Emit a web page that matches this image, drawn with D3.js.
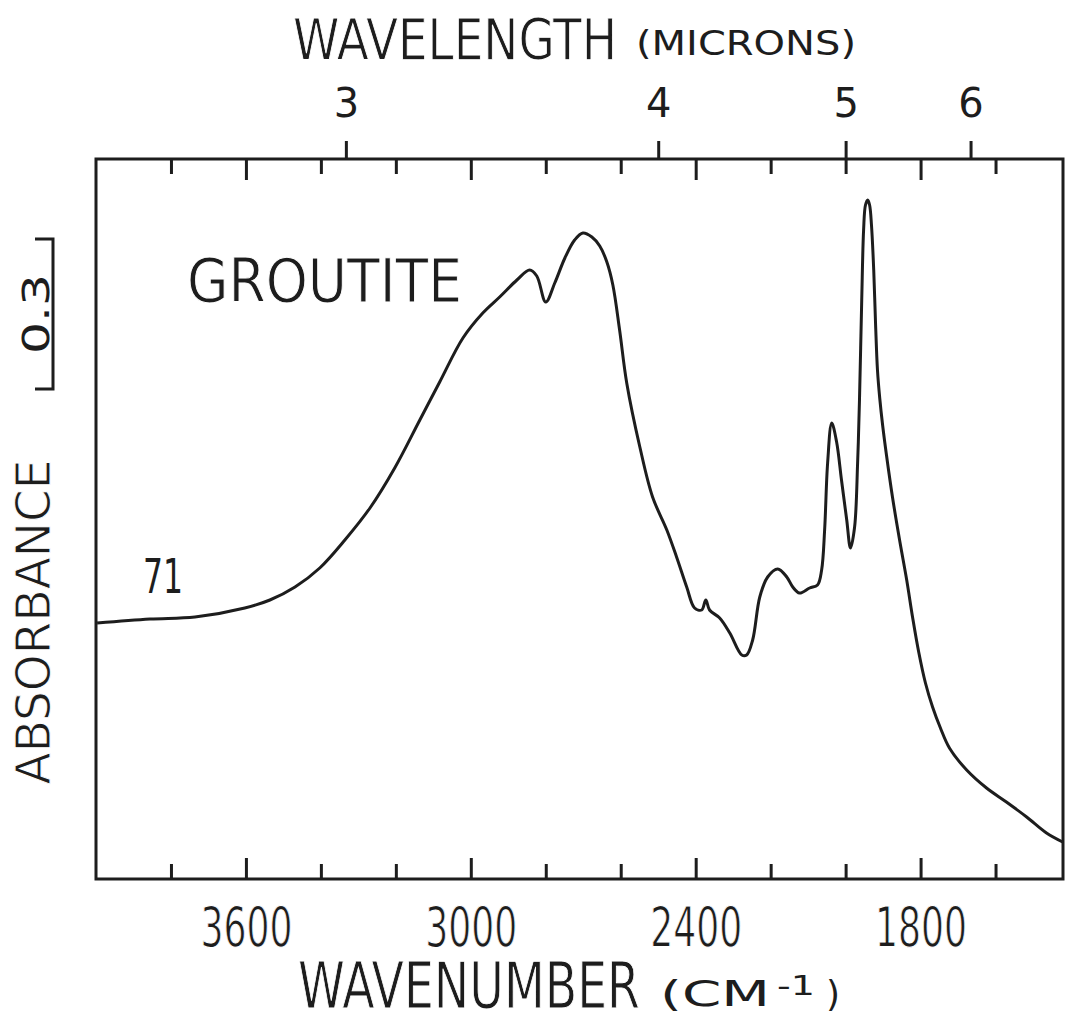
<!DOCTYPE html>
<html>
<head>
<meta charset="utf-8">
<script src="https://cdn.jsdelivr.net/npm/d3@7"></script>
<style>
    body { margin: 0; background: #fff; }
    text { font-family: "DejaVu Sans", sans-serif; fill: #1d1d1d; }
    text.big { stroke: #fff; stroke-width: 1px; }
</style>
</head>
<body>
<div id="chart"></div>
<script>
// groutite spectrum (wavenumber cm-1, absorbance)
const wavenumbers = [3997, 3856, 3736, 3603, 3536, 3469, 3403, 3336, 3269, 3203, 3136, 3083, 3021, 2968,
    2923, 2877, 2843, 2824, 2800, 2776, 2749, 2723, 2701, 2677, 2656, 2637, 2621, 2603, 2584, 2549, 2515,
    2477, 2451, 2424, 2403, 2384, 2373, 2363, 2336, 2309, 2277, 2264, 2248, 2229, 2208, 2181, 2157,
    2141, 2123, 2096, 2075, 2064, 2056, 2048, 2037, 2024, 2011, 1997, 1987, 1976, 1968, 1963, 1957,
    1952, 1947, 1941, 1936, 1931, 1925, 1920, 1915, 1909, 1901, 1891, 1875, 1856, 1837, 1821, 1805,
    1787, 1768, 1747, 1723, 1677, 1624, 1571, 1517, 1464, 1421];
const absorbance = [0.512, 0.520, 0.524, 0.542, 0.558, 0.584, 0.622, 0.678, 0.742, 0.822, 0.918, 0.994, 1.082, 1.132,
    1.164, 1.198, 1.218, 1.206, 1.154, 1.192, 1.242, 1.278, 1.292, 1.284, 1.266, 1.234, 1.188, 1.098, 0.992, 0.864, 0.764,
    0.698, 0.644, 0.584, 0.542, 0.538, 0.558, 0.538, 0.522, 0.492, 0.448, 0.448, 0.478, 0.564, 0.604, 0.620, 0.604,
    0.584, 0.572, 0.582, 0.588, 0.618, 0.698, 0.832, 0.912, 0.874, 0.798, 0.718, 0.662, 0.704, 0.832, 0.958, 1.158,
    1.298, 1.348, 1.358, 1.348, 1.308, 1.218, 1.108, 1.018, 0.962, 0.906, 0.848, 0.764, 0.678, 0.598, 0.522, 0.454,
    0.392, 0.344, 0.302, 0.262, 0.218, 0.182, 0.154, 0.124, 0.092, 0.074];

const minorTicks = [3800, 3600, 3400, 3200, 3000, 2800, 2600, 2400, 2200, 2000, 1800, 1600];
const majorTicks = [3600, 3000, 2400, 1800];
const micronTicks = [3, 4, 5, 6];
const scaleBar = [0.98, 1.28]; // the "0.3" absorbance bar

const data = wavenumbers.map((w, i) => ({wn: w, a: absorbance[i]}));

let width = 1065, height = 1017;
let margin = {top: 159, right: 2, bottom: 138, left: 96};

let svg = d3.select("#chart")
    .append("svg")
    .attr("width", width)
    .attr("height", height);

let x = d3.scaleLinear()
    .domain([4000, 1420])
    .range([margin.left, width - margin.right]);

let y = d3.scaleLinear()
    .domain([0, 1.44])
    .range([height - margin.bottom, margin.top]);

let ink = "#1d1d1d";

// frame
svg.append("rect")
    .attr("x", x.range()[0])
    .attr("y", y.range()[1])
    .attr("width", x.range()[1] - x.range()[0])
    .attr("height", y.range()[0] - y.range()[1])
    .attr("fill", "none")
    .attr("stroke", ink)
    .attr("stroke-width", 3);

function tickAxis(axis, size, ticks) {
    return axis.tickValues(ticks).tickSize(size).tickFormat("");
}

// inward ticks on bottom and top
let bottomY = y.range()[0], topY = y.range()[1];
[[d3.axisBottom(x), bottomY], [d3.axisTop(x), topY]].forEach(([ax, yy]) => {
    svg.append("g")
        .attr("class", "axis")
        .attr("transform", "translate(0," + yy + ")")
        .call(tickAxis(ax, -15, minorTicks.filter(t => majorTicks.indexOf(t) < 0)));
});
svg.append("g")
    .attr("transform", "translate(0," + bottomY + ")")
    .call(tickAxis(d3.axisBottom(x), -21, majorTicks));
svg.append("g")
    .attr("transform", "translate(0," + topY + ")")
    .call(tickAxis(d3.axisTop(x), -21, majorTicks));

// wavelength ticks (outside, top)
let micronAxis = d3.axisTop(x)
    .tickValues(micronTicks.map(m => 1e4 / m))
    .tickSize(18)
    .tickPadding(24)
    .tickFormat(v => Math.round(1e4 / v));
let gTop = svg.append("g")
    .attr("transform", "translate(0," + topY + ")")
    .call(micronAxis);
gTop.selectAll("text")
    .attr("dy", 0)
    .style("font-size", "40px");

// wavenumber labels
let gBot = svg.append("g")
    .attr("transform", "translate(0," + bottomY + ")")
    .call(d3.axisBottom(x).tickValues(majorTicks).tickSize(0).tickFormat(d3.format("d")));
gBot.selectAll("text")
    .attr("class", "big")
    .attr("y", 67)
    .attr("dy", 0)
    .attr("textLength", 92)
    .attr("lengthAdjust", "spacingAndGlyphs")
    .style("font-size", "56px");

svg.selectAll(".domain").remove();
svg.selectAll(".tick line")
    .attr("stroke", ink)
    .attr("stroke-width", 3);
svg.selectAll(".tick text")
    .style("fill", ink)
    .style("font-family", "DejaVu Sans, sans-serif");

// spectrum
let line = d3.line()
    .x(d => x(d.wn))
    .y(d => y(d.a))
    .curve(d3.curveCatmullRom.alpha(0.5));

svg.append("path")
    .datum(data)
    .attr("d", line)
    .attr("fill", "none")
    .attr("stroke", ink)
    .attr("stroke-width", 3)
    .attr("stroke-linejoin", "round");

// titles
svg.append("text")
    .attr("class", "big")
    .attr("x", 293).attr("y", 60)
    .attr("textLength", 324).attr("lengthAdjust", "spacingAndGlyphs")
    .style("font-size", "57px")
    .text("WAVELENGTH");
svg.append("text")
    .attr("x", 636).attr("y", 55)
    .attr("textLength", 220).attr("lengthAdjust", "spacingAndGlyphs")
    .style("font-size", "33px")
    .text("(MICRONS)");

svg.append("text")
    .attr("class", "big")
    .attr("x", 298).attr("y", 1008)
    .attr("textLength", 342).attr("lengthAdjust", "spacingAndGlyphs")
    .style("font-size", "64px")
    .text("WAVENUMBER");
// (CM-1) with raised exponent
svg.append("text")
    .attr("x", 660).attr("y", 1006)
    .attr("textLength", 110).attr("lengthAdjust", "spacingAndGlyphs")
    .style("font-size", "36px")
    .text("(CM");
svg.append("text")
    .attr("x", 777).attr("y", 995)
    .attr("textLength", 38).attr("lengthAdjust", "spacingAndGlyphs")
    .style("font-size", "26px")
    .text("-1");
svg.append("text")
    .attr("x", 826).attr("y", 1006)
    .style("font-size", "36px")
    .text(")");

svg.append("text")
    .attr("class", "big")
    .attr("transform", "translate(50,622) rotate(-90)")
    .attr("text-anchor", "middle")
    .attr("textLength", 325).attr("lengthAdjust", "spacingAndGlyphs")
    .style("font-size", "48px")
    .text("ABSORBANCE");

// scale bar
let barX = 53;
svg.append("path")
    .attr("d", `M${barX - 18},${y(scaleBar[1])}H${barX}V${y(scaleBar[0])}H${barX - 18}`)
    .attr("fill", "none")
    .attr("stroke", ink)
    .attr("stroke-width", 3);
svg.append("text")
    .attr("transform", "translate(49," + y((scaleBar[0] + scaleBar[1]) / 2) + ") rotate(-90)")
    .attr("text-anchor", "middle")
    .attr("textLength", 80).attr("lengthAdjust", "spacingAndGlyphs")
    .style("font-size", "38px")
    .text("0.3");

svg.append("text")
    .attr("class", "big")
    .attr("x", 187).attr("y", 302)
    .attr("textLength", 275).attr("lengthAdjust", "spacingAndGlyphs")
    .style("font-size", "60px")
    .text("GROUTITE");
svg.append("text")
    .attr("x", 143).attr("y", 593)
    .attr("textLength", 40).attr("lengthAdjust", "spacingAndGlyphs")
    .style("font-size", "48px")
    .text("71");
</script>
</body>
</html>
